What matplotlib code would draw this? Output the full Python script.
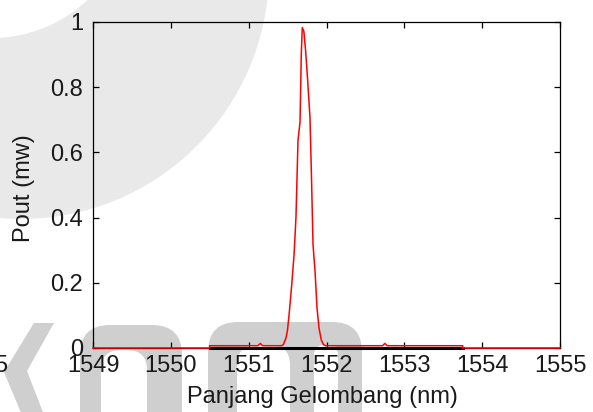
import matplotlib
matplotlib.use("Agg")
import matplotlib.pyplot as plt
from matplotlib.patches import Circle, Polygon, FancyBboxPatch

plt.rcParams['font.family'] = ['Liberation Sans', 'DejaVu Sans']

# output spectrum (nm, mW)
panjang_gelombang = [1549.0, 1550.50, 1550.50, 1551.12, 1551.15, 1551.18, 1551.42,
                     1551.445, 1551.480, 1551.499, 1551.525, 1551.553, 1551.583,
                     1551.608, 1551.634, 1551.660, 1551.676, 1551.689, 1551.709,
                     1551.733, 1551.760, 1551.788, 1551.807, 1551.827, 1551.852,
                     1551.878, 1551.904, 1551.933, 1551.962, 1551.99, 1552.72,
                     1552.75, 1552.78, 1553.75, 1553.75, 1555.0]
pout = [0, 0, 0.007, 0.007, 0.014, 0.007, 0.007,
        0.010, 0.031, 0.055, 0.117, 0.193, 0.285,
        0.402, 0.638, 0.693, 0.902, 0.983, 0.972,
        0.908, 0.813, 0.706, 0.525, 0.316, 0.239,
        0.123, 0.061, 0.025, 0.010, 0.007, 0.007,
        0.014, 0.007, 0.007, 0, 0]

# noise floor trace
noise_wl = [1550.5, 1553.75]
noise_p = [0.0, 0.0]

xticks = [1549, 1550, 1551, 1552, 1553, 1554, 1555]
yticks = [0, 0.2, 0.4, 0.6, 0.8, 1]
ytick_labels = ['0', '0.2', '0.4', '0.6', '0.8', '1']

W, H = 593, 412
fig = plt.figure(figsize=(W / 100, H / 100), dpi=100)

# background logo layer in pixel units
bg = fig.add_axes([0, 0, 1, 1], zorder=0)
bg.set_xlim(0, W)
bg.set_ylim(H, 0)
bg.axis('off')
bg.add_patch(Circle((21, -29), 248, color='#e9e9e9', lw=0))
bg.add_patch(Circle((-8, -101), 139, color='white', lw=0))
grey = '#cfcfcf'
bg.add_patch(Polygon([(34, 323), (54, 323), (27, 371), (46, 420), (24, 420), (4, 372)],
                     closed=True, color=grey, lw=0))
bg.add_patch(FancyBboxPatch((80, 325), 102, 120, boxstyle='round,pad=0,rounding_size=30',
                            color=grey, lw=0))
bg.add_patch(FancyBboxPatch((101, 350), 46, 100, boxstyle='round,pad=0,rounding_size=20',
                            color='white', lw=0))
bg.add_patch(FancyBboxPatch((208, 322), 154, 120, boxstyle='round,pad=0,rounding_size=30',
                            color=grey, lw=0))
bg.add_patch(FancyBboxPatch((237, 345), 53, 100, boxstyle='round,pad=0,rounding_size=20',
                            color='white', lw=0))
bg.add_patch(FancyBboxPatch((314, 345), 24, 100, boxstyle='round,pad=0,rounding_size=10',
                            color='white', lw=0))
bg.text(7, 372, '5', fontsize=17, ha='right', va='baseline', color='#1a1a1a')

ax = fig.add_axes([93 / W, 1 - 348 / H, 467 / W, 326 / H], zorder=1)
ax.set_facecolor('none')

ax.plot(noise_wl, noise_p, color='black', lw=2.2, clip_on=False, zorder=2)
ax.plot(panjang_gelombang, pout, color='red', lw=1.1, clip_on=False, zorder=3)

ax.set_xlim(1549, 1555)
ax.set_ylim(0, 1)
ax.set_xticks(xticks)
ax.set_xticklabels([str(t) for t in xticks])
ax.set_yticks(yticks)
ax.set_yticklabels(ytick_labels)

for s in ax.spines.values():
    s.set_linewidth(0.9)
    s.set_color('black')
ax.tick_params(direction='in', top=True, right=True, length=4, width=0.9,
               labelsize=17, labelcolor='#1a1a1a')
ax.tick_params(axis='x', pad=5)
ax.tick_params(axis='y', pad=7)

ax.set_xlabel('Panjang Gelombang (nm)', fontsize=17, color='#1a1a1a', va='top')
ax.xaxis.set_label_coords(0.491, -0.117)
ax.set_ylabel('Pout (mw)', fontsize=17, color='#1a1a1a')
ax.yaxis.set_label_coords(-0.124, 0.489)

fig.savefig('out.png', dpi=100)
